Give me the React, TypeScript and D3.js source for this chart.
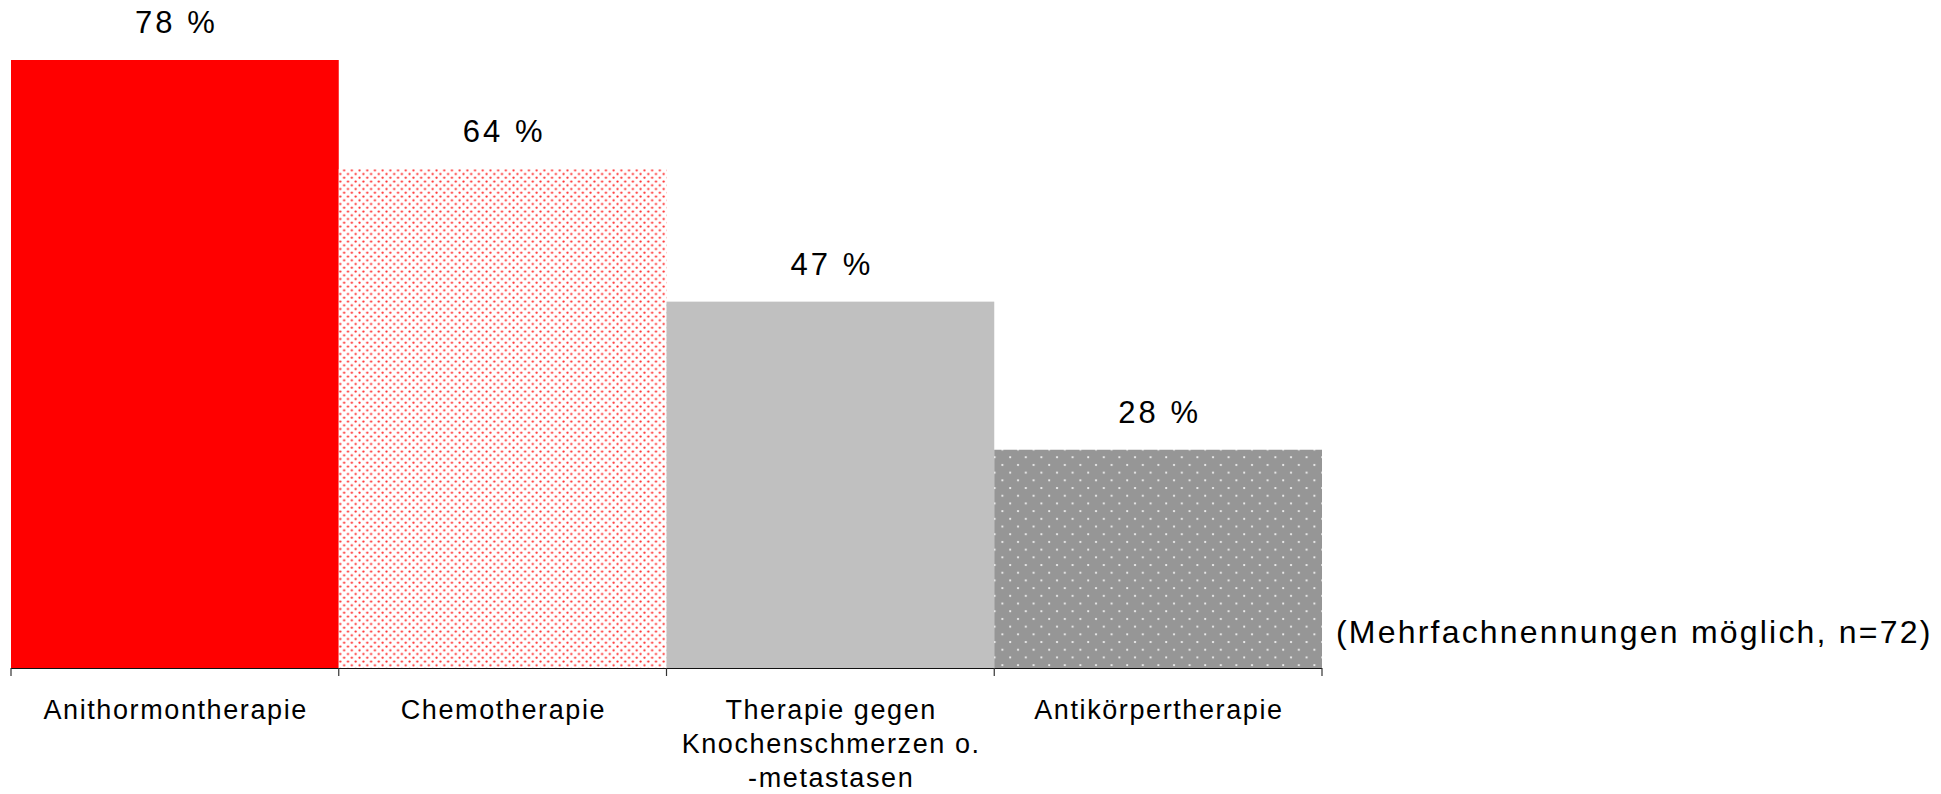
import * as d3 from "d3";
import React from "react";

// data
const categories = ["Anithormontherapie", "Chemotherapie", "Therapie gegen Knochenschmerzen o. -metastasen", "Antikörpertherapie"];
const labelLines = [["Anithormontherapie"], ["Chemotherapie"], ["Therapie gegen", "Knochenschmerzen o.", "-metastasen"], ["Antikörpertherapie"]];
const values = [78, 64, 47, 28];
const fills = ["#ff0000", "url(#dotsRed)", "#c0c0c0", "url(#dotsGrey)"];
const note = "(Mehrfachnennungen möglich, n=72)";

const W = 1941;
const H = 794;
const font = "'Liberation Sans', Arial, sans-serif";

export default function App() {
  const x = d3.scaleBand<string>().domain(categories).range([11, 1322]).paddingInner(0).paddingOuter(0);
  const y = d3.scaleLinear().domain([0, 78]).range([668, 60]);
  const base = y(0);

  return (
    <svg width={W} height={H} style={{ position: "absolute", left: 0, top: 0, background: "#fff" }}>
      <defs>
        <pattern id="dotsRed" patternUnits="userSpaceOnUse" width={7.7} height={7.5}>
          <rect width={7.7} height={7.5} fill="#fff" />
          <circle cx={1.5} cy={1.5} r={1.1} fill="#ff2a2a" />
          <circle cx={5.35} cy={5.25} r={1.1} fill="#ff2a2a" />
        </pattern>
        <pattern id="dotsGrey" patternUnits="userSpaceOnUse" width={15.6} height={15.4}>
          <rect width={15.6} height={15.4} fill="#969696" />
          <circle cx={4} cy={3} r={1.1} fill="#f4f4f4" />
          <circle cx={11.8} cy={10.7} r={1.1} fill="#f4f4f4" />
        </pattern>
      </defs>

      {categories.map((c, i) => (
        <rect key={c} x={x(c)} y={y(values[i])} width={x.bandwidth()} height={base - y(values[i])} fill={fills[i]} />
      ))}

      {categories.map((c, i) => (
        <text key={"v" + c} x={(x(c) as number) + x.bandwidth() / 2 + 1.5} y={y(values[i]) - 27} textAnchor="middle"
          fontFamily={font} fontSize={31} letterSpacing={3} fill="#000">
          {values[i] + " %"}
        </text>
      ))}

      {/* axis */}
      <line x1={x.range()[0]} x2={x.range()[1]} y1={base + 0.5} y2={base + 0.5} stroke="#111" strokeWidth={1.2} />
      {[...categories.map((c) => x(c) as number), x.range()[1]].map((t, i) => (
        <line key={"t" + i} x1={t} x2={t} y1={base} y2={base + 8} stroke="#333" strokeWidth={1.2} />
      ))}

      {categories.map((c, i) => (
        <text key={"l" + c} textAnchor="middle" fontFamily={font} fontSize={27} letterSpacing={1.6} fill="#000">
          {labelLines[i].map((ln, j) => (
            <tspan key={j} x={(x(c) as number) + x.bandwidth() / 2 + 0.8} y={719 + j * 34}>{ln}</tspan>
          ))}
        </text>
      ))}

      <text x={1336} y={643} fontFamily={font} fontSize={32} letterSpacing={2.2} fill="#000">{note}</text>
    </svg>
  );
}
